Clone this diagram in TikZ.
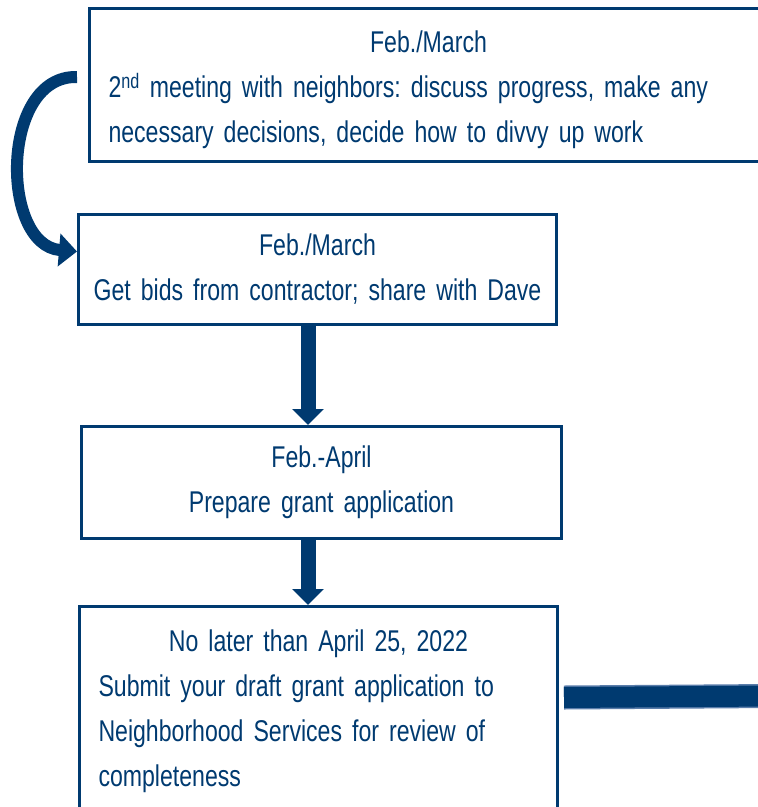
\documentclass[tikz,border=0pt]{standalone}
\usepackage{fontspec}
\setmainfont{Liberation Sans}[FakeStretch=0.77,WordSpace=0.5]
\usepackage{tikz}
\usetikzlibrary{arrows.meta}
\definecolor{navy}{HTML}{003A70}
\definecolor{edgeblue}{HTML}{5A7DAA}
\frenchspacing

\begin{document}
\begin{tikzpicture}[x=1pt,y=-1pt,
    box/.style={draw=navy,line width=3pt,text=navy,anchor=north west,inner xsep=19pt,inner ysep=0pt,
      font=\fontsize{30}{45}\selectfont},
    steparrow/.style={navy,line width=15pt,-{Triangle[width=31pt,length=16pt]}},
    bendarrow/.style={navy,line width=12pt,-{Triangle[width=32pt,length=18pt]}},
    bar/.style={draw=edgeblue,line width=1.5pt,double=navy,double distance=21pt}]
  \useasboundingbox (0,0) rectangle (758,807);
  \node [box,text width=640pt,minimum height=153pt,align=left] (b1) at (88,7)
    {\rule{0pt}{32pt}\hspace*{\fill}Feb./March\hspace*{\fill}\null\\
     2\textsuperscript{nd} meeting with neighbors: discuss progress, make any\\
     necessary decisions, decide how to divvy up work};
  \node [box,text width=460pt,inner xsep=9pt,minimum height=110pt,align=center] (b2) at (77,213)
    {Feb./March\\ Get bids from contractor; share with Dave};
  \node [box,text width=462pt,inner xsep=9pt,minimum height=112pt,align=center] (b3) at (80,425)
    {Feb.-April\\ Prepare grant application};
  \node [box,text width=440pt,minimum height=210pt,align=left] (b4) at (78,605)
    {\hspace*{\fill}No later than April 25, 2022\hspace*{\fill}\null\\
     Submit your draft grant application to\\
     Neighborhood Services for review of\\
     completeness};
  \coordinate (off) at (772,696);
  \draw [bendarrow] ([xshift=-11pt,yshift=8pt]b1.west) .. controls (0,75) and (0,245) .. ([yshift=18pt]b2.west);
  \draw [steparrow] (b2.south -| 308,0) -- (b3.north -| 308,0);
  \draw [steparrow] (b3.south -| 308,0) -- (b4.north -| 308,0);
  \draw [bar] ([xshift=5pt,yshift=14pt]b4.east) -- (off);
\end{tikzpicture}
\end{document}
